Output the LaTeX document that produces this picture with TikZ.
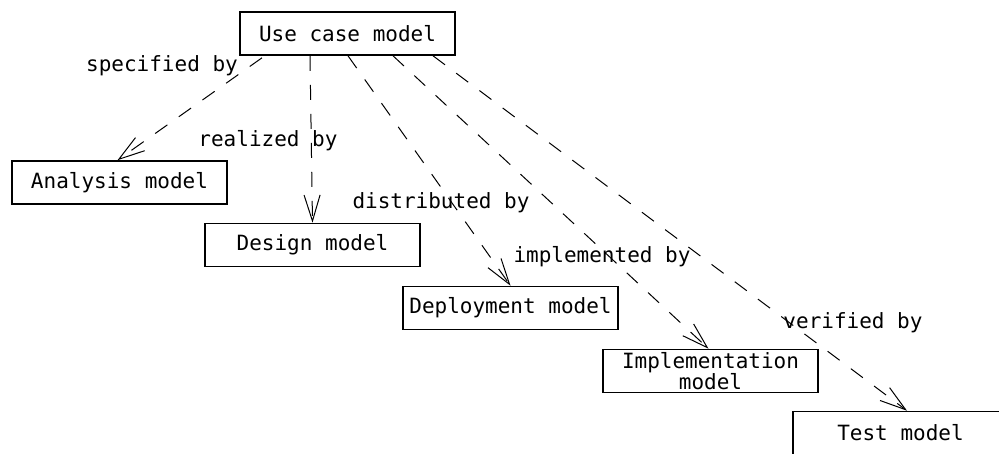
\documentclass[tikz,border=0pt]{standalone}
\usepackage{fontspec}
\newfontfamily\dmono{DejaVu Sans Mono}
\usetikzlibrary{arrows.meta,calc}
\begin{document}
\begin{tikzpicture}[x=1pt,y=-1pt,
  model/.style={draw, line width=1.6pt, minimum width=215pt, minimum height=43pt, inner sep=0pt,
    font=\dmono\fontsize{21}{20}\selectfont, align=center},
  lbl/.style={inner sep=0pt, font=\dmono\fontsize{21}{20}\selectfont},
  dep/.style={line width=1pt, dash pattern=on 15pt off 14pt,
    -{Straight Barb[length=26pt,width=16pt,line width=1pt]}}
]
\useasboundingbox (0,0) rectangle (999,453);
\clip (0,0) rectangle (999,453);
\fill[white] (0,0) rectangle (999,453);

\node[model] (uc) at (347.5,33.5) {Use case model};
\node[model] (an) at (119.5,182.5) {Analysis model};
\node[model] (de) at (312.5,245) {Design model};
\node[model] (dp) at (510.5,308) {Deployment model};
\node[model] (im) at (710.5,371) {Implementation\\model};
\node[model, minimum width=260pt] (te) at (923,433) {};
\node[lbl] (tet) at (900.5,433) {Test model};

\coordinate (s1) at ($(uc.south)+(-85.5,2)$);
\coordinate (s2) at ($(uc.south)+(-37.5,0)$);
\coordinate (s3) at ($(uc.south)+(0.5,0)$);
\coordinate (s4) at ($(uc.south)+(45.5,0)$);
\coordinate (s5) at ($(uc.south)+(85.5,0)$);

\draw[dep] (s1) -- ($(an.north)+(-2,0)$);
\draw[dep] (s2) -- (de.north);
\draw[dep] (s3) -- (dp.north);
\draw[dep] (s4) -- ($(im.north)+(-2,0)$);
\draw[dep] (s5) -- ($(te.north)+(-16,0)$);

\node[lbl] (l1) at (162,66) {specified by};
\node[lbl] (l2) at (268,141) {realized by};
\node[lbl] (l3) at (441,203) {distributed by};
\node[lbl] (l4) at (602,257) {implemented by};
\node[lbl] (l5) at (853,323) {verified by};
\end{tikzpicture}
\end{document}
